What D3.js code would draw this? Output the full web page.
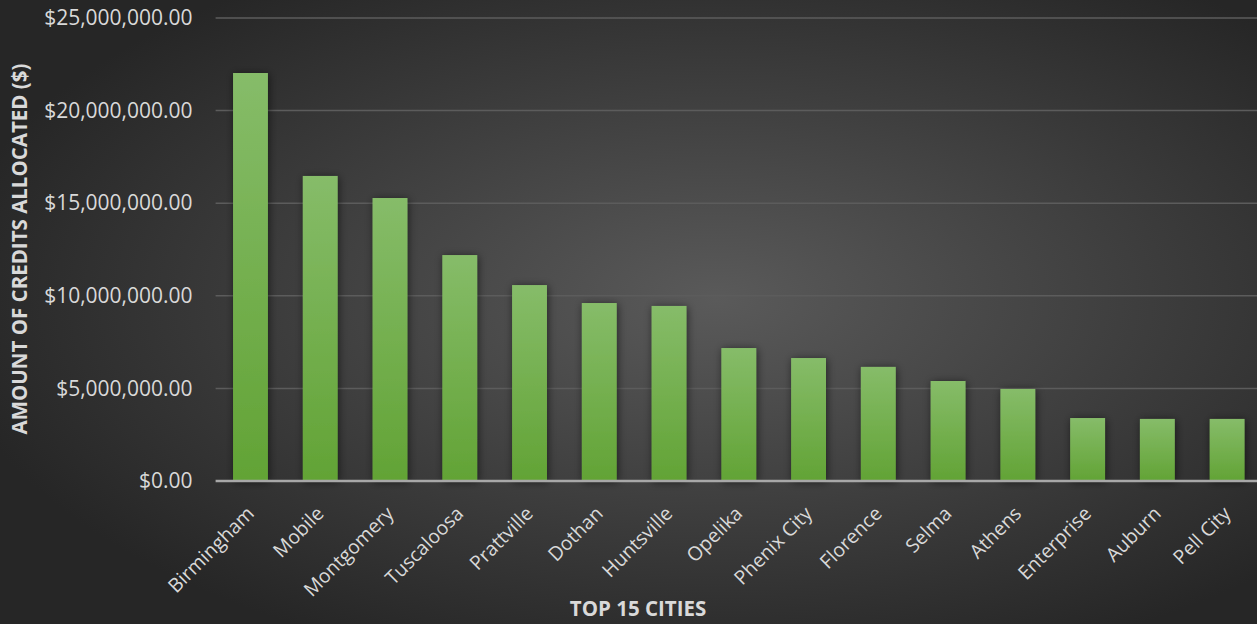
<!DOCTYPE html>
<html>
<head>
<meta charset="utf-8">
<title>Top 15 Cities</title>
<script src="https://d3js.org/d3.v7.min.js"></script>
<style>
  body { margin: 0; background: #2b2b2b; }
  svg { display: block; font-family: "Open Sans", sans-serif; }
</style>
</head>
<body>
<svg width="1257" height="624"></svg>
<script>
const cities = ["Birmingham", "Mobile", "Montgomery", "Tuscaloosa", "Prattville", "Dothan",
  "Huntsville", "Opelika", "Phenix City", "Florence", "Selma", "Athens", "Enterprise", "Auburn", "Pell City"];
const credits = [22030000, 16470000, 15280000, 12200000, 10580000, 9610000,
  9450000, 7180000, 6640000, 6160000, 5400000, 4970000, 3400000, 3350000, 3350000];
const yTicks = [0, 5000000, 10000000, 15000000, 20000000, 25000000];

const data = cities.map((c, i) => ({ city: c, value: credits[i] }));

const svg = d3.select("svg");
const W = +svg.attr("width"), H = +svg.attr("height");

const defs = svg.append("defs");
const bg = defs.append("radialGradient").attr("id", "bg")
  .attr("cx", "57%").attr("cy", "48%").attr("r", "62%");
bg.append("stop").attr("offset", "0%").attr("stop-color", "#5a5a5a");
bg.append("stop").attr("offset", "100%").attr("stop-color", "#262626");

const barGrad = defs.append("linearGradient").attr("id", "barGrad")
  .attr("x1", 0).attr("y1", 0).attr("x2", 0).attr("y2", 1);
barGrad.append("stop").attr("offset", "0%").attr("stop-color", "#86bc69");
barGrad.append("stop").attr("offset", "100%").attr("stop-color", "#62a335");

const shadow = defs.append("filter").attr("id", "shadow")
  .attr("x", "-50%").attr("y", "-10%").attr("width", "200%").attr("height", "120%");
shadow.append("feDropShadow").attr("dx", 1).attr("dy", 1).attr("stdDeviation", 4)
  .attr("flood-color", "#000").attr("flood-opacity", 0.55);

svg.append("rect").attr("width", W).attr("height", H).attr("fill", "url(#bg)");

const plotLeft = 215.6, plotRight = 1262;
const x = d3.scaleBand().domain(cities).range([plotLeft, plotRight]).paddingInner(0.5).paddingOuter(0.25);
const y = d3.scaleLinear().domain([0, 25000000]).range([481, 18]);

// gridlines
svg.append("g")
  .selectAll("line").data(yTicks.slice(1)).join("line")
  .attr("x1", plotLeft).attr("x2", W)
  .attr("y1", d => y(d)).attr("y2", d => y(d))
  .attr("stroke", "#5c5c5c").attr("stroke-width", 1.5);

// y axis labels
const yAxis = d3.axisLeft(y).tickValues(yTicks)
  .tickFormat(d => "$" + d3.format(",.2f")(d)).tickSize(0).tickPadding(23);
const ya = svg.append("g").attr("transform", `translate(${plotLeft},0)`).call(yAxis);
ya.select(".domain").remove();
ya.selectAll("text").attr("fill", "#d9d9d9").style("font-size", "21px")
  .style("font-family", "'Open Sans', sans-serif");

// bars
svg.append("g").attr("filter", "url(#shadow)")
  .selectAll("rect").data(data).join("rect")
  .attr("x", d => x(d.city))
  .attr("width", x.bandwidth())
  .attr("y", d => y(d.value))
  .attr("height", d => y(0) - y(d.value))
  .attr("fill", "url(#barGrad)");

// baseline
svg.append("line")
  .attr("x1", plotLeft).attr("x2", W)
  .attr("y1", y(0)).attr("y2", y(0))
  .attr("stroke", "#a8a8a8").attr("stroke-width", 2.5);

// x labels
svg.append("g").selectAll("text").data(cities).join("text")
  .attr("transform", d => `translate(${x(d) + x.bandwidth() / 2},${510}) rotate(-45)`)
  .attr("text-anchor", "end")
  .attr("dy", "0.35em")
  .attr("fill", "#d9d9d9")
  .style("font-size", "19.5px")
  .text(d => d);

// axis titles
svg.append("text")
  .attr("x", 638).attr("y", 616)
  .attr("text-anchor", "middle")
  .attr("fill", "#d9d9d9")
  .style("font-size", "20.5px").style("font-weight", "bold")
  .text("TOP 15 CITIES");

svg.append("text")
  .attr("transform", "translate(27,249) rotate(-90)")
  .attr("text-anchor", "middle")
  .attr("fill", "#d9d9d9")
  .style("font-size", "20.5px").style("font-weight", "bold")
  .text("AMOUNT OF CREDITS ALLOCATED ($)");
</script>
</body>
</html>
